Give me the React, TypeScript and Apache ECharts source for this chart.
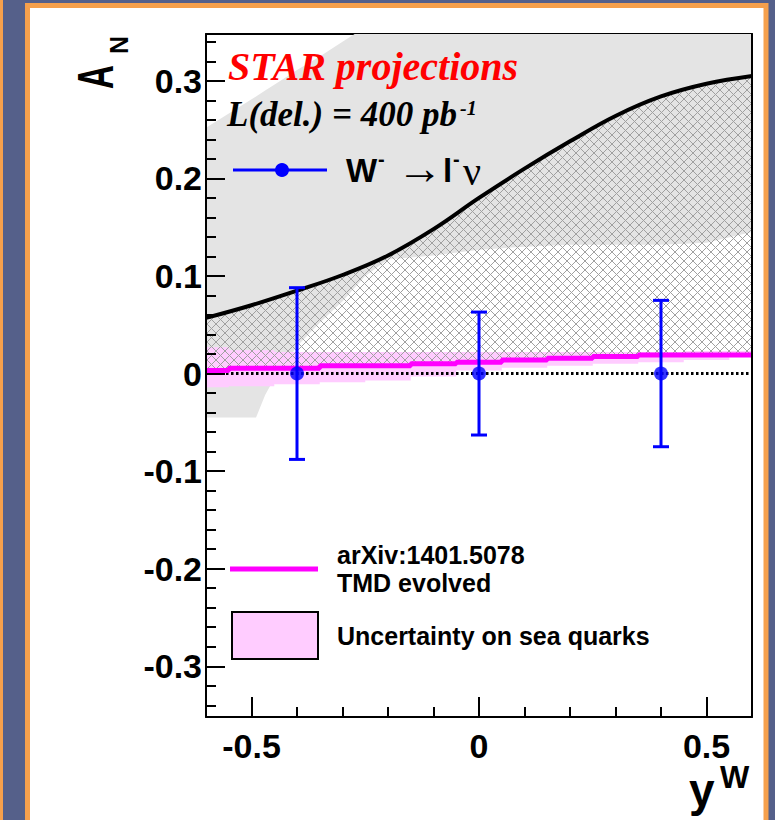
import React, { useEffect, useRef } from 'react';
import * as echarts from 'echarts';

// ---------- data ----------
const X_BINS = [-0.6, -0.5, -0.4, -0.3, -0.2, -0.1, 0, 0.1, 0.2, 0.3, 0.4, 0.5, 0.6];
// black theory curve (upper edge of hatched band)
const CURVE = [0.057, 0.07, 0.085, 0.101, 0.121, 0.148, 0.18, 0.21, 0.238, 0.264, 0.284, 0.297, 0.305];
// magenta TMD evolved curve (histogram-like)
const TMD = [0.003, 0.0055, 0.0055, 0.008, 0.008, 0.01, 0.0116, 0.014, 0.0157, 0.0175, 0.019, 0.019, 0.019];
// pink sea-quark uncertainty band
const SEA_LO = [-0.014, -0.013, -0.011, -0.009, -0.007, -0.003, 0.003, 0.006, 0.008, 0.01, 0.0116, 0.014, 0.017];
const SEA_HI = [0.027, 0.024, 0.022, 0.022, 0.022, 0.022, 0.022, 0.022, 0.022, 0.022, 0.022, 0.023, 0.023];
// grey uncertainty band
const GREY_X = [-0.6, -0.49, -0.47, -0.45, -0.42, -0.4, -0.35, -0.3, -0.25, -0.2, -0.1, 0, 0.1, 0.2, 0.3, 0.4, 0.5, 0.6];
const GREY_LO = [-0.045, -0.045, -0.022, -0.005, 0.015, 0.028, 0.052, 0.074, 0.1, 0.117, 0.121, 0.127, 0.13, 0.132, 0.132, 0.132, 0.134, 0.145];
const GREY_HI = [0.252, 0.284, 0.29, 0.296, 0.305, 0.311, 0.325, 0.34, 0.355, 0.37, 0.4, 0.4, 0.4, 0.4, 0.4, 0.4, 0.4, 0.4];
// STAR projected points
const PT_X = [-0.4, 0, 0.4];
const PT_Y = [0, 0, 0];
const PT_ERR = [0.088, 0.063, 0.075];
// axis ticks
const X_MAJOR = [-0.5, 0, 0.5];
const Y_MAJOR = [-0.3, -0.2, -0.1, 0, 0.1, 0.2, 0.3];

const X_MINOR: number[] = [];
for (let i = -5; i <= 5; i++) if (i % 5 !== 0) X_MINOR.push(i / 10);
const Y_MINOR: number[] = [];
for (let i = -17; i <= 17; i++) if (i % 5 !== 0) Y_MINOR.push(i / 50);

const SANS = '"Liberation Sans", Arial, Helvetica, sans-serif';
const SERIF = '"Liberation Serif", "Times New Roman", serif';
const BLUE = '#0000ff';
const MAGENTA = '#ff00ff';
const PINK = '#ffccff';
const GREY = '#e4e4e4';
const ORANGE = '#f6a04c';
const SLATE = '#55608a';

const hatchSvg =
  "<svg xmlns='http://www.w3.org/2000/svg' width='9' height='9'>" +
  "<path d='M-2 -2L11 11M11 -2L-2 11' stroke='#a0a0a0' stroke-width='1' fill='none'/></svg>";
const HATCH = {
  image: 'data:image/svg+xml;charset=utf-8,' + encodeURIComponent(hatchSvg),
  repeat: 'repeat',
  imageWidth: 9,
  imageHeight: 9,
};

function stepPts(xs: number[], ys: number[]) {
  const pts: number[][] = [];
  for (let i = 0; i < xs.length; i++) {
    const l = i === 0 ? xs[0] : (xs[i - 1] + xs[i]) / 2;
    const r = i === xs.length - 1 ? xs[i] : (xs[i] + xs[i + 1]) / 2;
    pts.push([l, ys[i]], [r, ys[i]]);
  }
  return pts;
}
function linePts(xs: number[], ys: number[]) {
  return xs.map((x, i) => [x, ys[i]]);
}

function band(upper: number[][], lower: number[][], fill: any, z: number) {
  return {
    type: 'custom',
    z,
    clip: true,
    silent: true,
    data: [[0, 0]],
    renderItem: (_p: any, api: any) => {
      const pts = [...upper, ...lower.slice().reverse()].map((p) => api.coord(p));
      return { type: 'polygon', shape: { points: pts }, style: { fill, stroke: null } };
    },
  };
}

function txt(x: number, y: number, text: string, font: string, fill = '#000', extra: any = {}) {
  return {
    type: 'text',
    x,
    y,
    z: 50,
    style: { text, font, fill, align: 'left', verticalAlign: 'middle' },
    ...extra,
  };
}

export default function App() {
  const ref = useRef<HTMLDivElement>(null);
  useEffect(() => {
    if (!ref.current) return;
    const chart = echarts.init(ref.current, null, { renderer: 'svg' });

    const gridRect = { left: 206, top: 34, width: 546, height: 683 };
    const axisLineStyle = { color: '#000', width: 2 };
    const baseX = { type: 'value', min: -0.6, max: 0.6, splitLine: { show: false } };
    const baseY = { type: 'value', min: -0.352, max: 0.348, splitLine: { show: false } };
    const fmt = (v: number) => String(Math.round(v * 10) / 10);

    const option: any = {
      animation: false,
      backgroundColor: SLATE,
      grid: { ...gridRect, containLabel: false },
      xAxis: [
        {
          ...baseX,
          position: 'bottom',
          z: 10,
          axisLine: { show: true, onZero: false, lineStyle: axisLineStyle },
          axisTick: { show: true, inside: true, length: 20, customValues: X_MAJOR, lineStyle: { color: '#000', width: 2 } },
          axisLabel: {
            show: true,
            customValues: X_MAJOR,
            margin: 12,
            color: '#000',
            fontFamily: SANS,
            fontWeight: 'bold',
            fontSize: 34,
            formatter: fmt,
          },
        },
        {
          ...baseX,
          position: 'bottom',
          z: 10,
          axisLine: { show: false, onZero: false },
          axisTick: { show: true, inside: true, length: 10, customValues: X_MINOR, lineStyle: { color: '#000', width: 2 } },
          axisLabel: { show: false },
        },
        {
          ...baseX,
          position: 'top',
          z: 0,
          axisLine: { show: true, onZero: false, lineStyle: axisLineStyle },
          axisTick: { show: false },
          axisLabel: { show: false },
        },
      ],
      yAxis: [
        {
          ...baseY,
          position: 'left',
          z: 10,
          axisLine: { show: true, onZero: false, lineStyle: axisLineStyle },
          axisTick: { show: true, inside: true, length: 19, customValues: Y_MAJOR, lineStyle: { color: '#000', width: 2 } },
          axisLabel: {
            show: true,
            customValues: Y_MAJOR,
            margin: 4,
            color: '#000',
            fontFamily: SANS,
            fontWeight: 'bold',
            fontSize: 34,
            formatter: fmt,
          },
        },
        {
          ...baseY,
          position: 'left',
          z: 10,
          axisLine: { show: false, onZero: false },
          axisTick: { show: true, inside: true, length: 10, customValues: Y_MINOR, lineStyle: { color: '#000', width: 2 } },
          axisLabel: { show: false },
        },
        {
          ...baseY,
          position: 'right',
          z: 10,
          axisLine: { show: true, onZero: false, lineStyle: axisLineStyle },
          axisTick: { show: false },
          axisLabel: { show: false },
        },
      ],
      series: [
        band(linePts(GREY_X, GREY_HI), linePts(GREY_X, GREY_LO), GREY, 1),
        band(stepPts(X_BINS, SEA_HI), stepPts(X_BINS, SEA_LO), PINK, 2),
        band(linePts(X_BINS, CURVE), stepPts(X_BINS, TMD), HATCH, 3),
        {
          type: 'line',
          z: 4,
          silent: true,
          symbol: 'none',
          data: [[-0.6, 0], [0.6, 0]],
          lineStyle: { color: '#000', width: 3, type: [2.5, 2.5] },
        },
        {
          type: 'line',
          z: 5,
          silent: true,
          symbol: 'none',
          step: 'middle',
          data: linePts(X_BINS, TMD),
          lineStyle: { color: MAGENTA, width: 5 },
        },
        {
          type: 'line',
          z: 6,
          silent: true,
          symbol: 'none',
          smooth: 0.4,
          data: linePts(X_BINS, CURVE),
          lineStyle: { color: '#000', width: 4 },
        },
        {
          type: 'custom',
          z: 7,
          silent: true,
          data: PT_X.map((x, i) => [x, PT_Y[i], PT_ERR[i]]),
          renderItem: (_p: any, api: any) => {
            const x = api.value(0);
            const y = api.value(1);
            const e = api.value(2);
            const top = api.coord([x, y + e]);
            const bot = api.coord([x, y - e]);
            const st = { stroke: BLUE, lineWidth: 3 };
            return {
              type: 'group',
              children: [
                { type: 'line', shape: { x1: top[0], y1: top[1], x2: bot[0], y2: bot[1] }, style: st },
                { type: 'line', shape: { x1: top[0] - 8, y1: top[1], x2: top[0] + 8, y2: top[1] }, style: st },
                { type: 'line', shape: { x1: bot[0] - 8, y1: bot[1], x2: bot[0] + 8, y2: bot[1] }, style: st },
              ],
            };
          },
        },
        {
          type: 'scatter',
          z: 8,
          silent: true,
          symbol: 'circle',
          symbolSize: 14,
          itemStyle: { color: BLUE },
          data: PT_X.map((x, i) => [x, PT_Y[i]]),
        },
      ],
      graphic: [
        {
          type: 'rect',
          z: -10,
          silent: true,
          shape: { x: -50, y: -10, width: 51, height: 900 },
          style: { fill: SLATE, stroke: ORANGE, lineWidth: 4 },
        },
        {
          type: 'rect',
          z: -10,
          silent: true,
          shape: { x: 27.5, y: 5.5, width: 738.5, height: 900 },
          style: { fill: '#fff', stroke: ORANGE, lineWidth: 5 },
        },
        // header texts
        txt(228, 66, 'STAR projections', `italic bold 40px ${SERIF}`, '#ff0000'),
        txt(227, 114, 'L(del.) = 400 pb', `italic bold 35px ${SERIF}`),
        txt(460, 108, '-1', `italic bold 20px ${SERIF}`),
        // W- -> l- nu legend entry
        { type: 'line', z: 50, shape: { x1: 233, y1: 170, x2: 327, y2: 170 }, style: { stroke: BLUE, lineWidth: 3 } },
        { type: 'circle', z: 51, shape: { cx: 282, cy: 170, r: 7 }, style: { fill: BLUE } },
        txt(346, 170, 'W', `bold 33px ${SANS}`),
        txt(378, 159, '-', `bold 20px ${SANS}`),
        txt(397, 168, '→', `46px ${SERIF}`),
        txt(443, 170, 'l', `bold 33px ${SANS}`),
        txt(453, 159, '-', `bold 20px ${SANS}`),
        txt(463, 171, 'ν', `40px ${SERIF}`),
        // lower legend
        { type: 'line', z: 50, shape: { x1: 230, y1: 569, x2: 318, y2: 569 }, style: { stroke: MAGENTA, lineWidth: 5 } },
        txt(337, 555, 'arXiv:1401.5078', `bold 25px ${SANS}`),
        txt(337, 583, 'TMD evolved', `bold 25px ${SANS}`),
        {
          type: 'rect',
          z: 50,
          shape: { x: 232, y: 612, width: 86, height: 47 },
          style: { fill: PINK, stroke: '#000', lineWidth: 2 },
        },
        txt(337, 636, 'Uncertainty on sea quarks', `bold 25px ${SANS}`),
        // axis titles
        txt(96, 89, 'A', `bold 33px ${SANS}`, '#000', { rotation: Math.PI / 2, scaleY: 1.5 }),
        txt(119, 54, 'N', `bold 25px ${SANS}`, '#000', { rotation: Math.PI / 2 }),
        txt(689, 790, 'y', `bold 46px ${SANS}`),
        txt(720, 777, 'W', `bold 31px ${SANS}`),
      ],
    };

    chart.setOption(option);
    return () => chart.dispose();
  }, []);

  return (
    <div
      ref={ref}
      style={{ position: 'fixed', left: 0, top: 0, width: 775, height: 820 }}
    />
  );
}
